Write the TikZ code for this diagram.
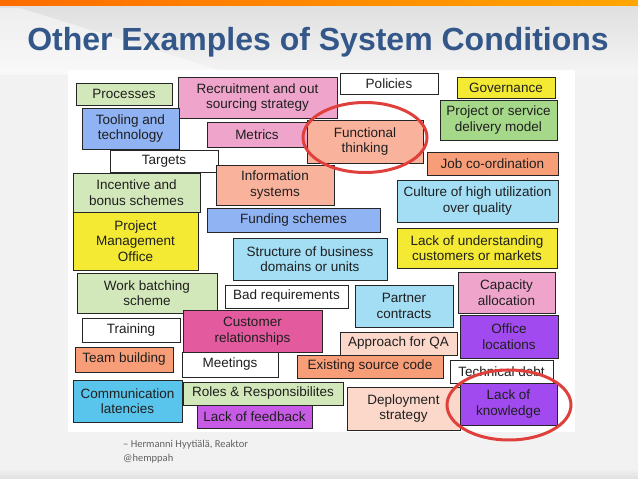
\documentclass[tikz,border=0pt]{standalone}
\usepackage{fontspec}
\setmainfont{Liberation Sans}
\newfontfamily\footfont{Carlito}
\usetikzlibrary{shapes.geometric}
\definecolor{titleblue}{HTML}{34578A}
\definecolor{cgreen}{HTML}{D3E8BA}
\definecolor{cgreendk}{HTML}{A5D889}
\definecolor{cpink}{HTML}{EEA4CB}
\definecolor{cblue}{HTML}{90B3F4}
\definecolor{csalmon}{HTML}{F9B29C}
\definecolor{corange}{HTML}{F79E78}
\definecolor{cyellow}{HTML}{F4EA33}
\definecolor{ccyan}{HTML}{A3DEF5}
\definecolor{ccyandk}{HTML}{5AC5EC}
\definecolor{cmagenta}{HTML}{E35A9E}
\definecolor{cpurple}{HTML}{A14AF0}
\definecolor{clilac}{HTML}{C85BE6}
\definecolor{cpeach}{HTML}{FCD8CA}
\definecolor{cred}{HTML}{E0403C}
\begin{document}
\begin{tikzpicture}[x=1pt,y=-1pt,
  box/.style={draw=black!85, line width=0.9pt, inner sep=0pt, align=center,
    font=\fontsize{13.5}{15.5}\selectfont, text=black!88},
  ring/.style={draw=cred, line width=3pt, ellipse, inner sep=0pt},
  foot/.style={anchor=base west, inner sep=0pt, text=black!62, font=\footfont\fontsize{10.5}{12}\selectfont}]
\useasboundingbox (0,0) rectangle (638,479);
% slide background
\fill[top color=black!13, bottom color=black!4] (0,0) rectangle (638,75);
\fill[black!5] (0,75) rectangle (638,468);
\fill[top color=black!5, bottom color=black!12] (0,468) rectangle (638,479);
\fill[white, opacity=0.45] (0,8) -- (20,8) -- (235,75) -- (0,75) -- cycle;
\fill[left color=orange!85!red, right color=orange!70!yellow] (0,0) rectangle (638,5);
% title
\node[anchor=base, text=titleblue, font=\fontsize{32}{36}\selectfont\bfseries, inner sep=0pt] (title) at (318,50) {Other Examples of System Conditions};
% photo area
\fill[white] (68,70) rectangle (575,432);
% sticky notes
\node[box, fill=cgreen, minimum width=96, minimum height=22] (proc) at (124,94) {Processes};
\node[box, fill=cpink, minimum width=159, minimum height=41] (recr) at (257.5,97.5) {Recruitment and out\\sourcing strategy};
\node[box, fill=cblue, minimum width=97, minimum height=41] (tool) at (130.5,128.5) {Tooling and\\technology};
\node[box, fill=csalmon, minimum width=116, minimum height=43] (func) at (365,141.5) {Functional\\thinking};
\node[box, fill=cpink, minimum width=100, minimum height=25] (metr) at (257,134.5) {Metrics};
\node[box, fill=white, minimum width=108, minimum height=22] (targ) at (164,161) {Targets};
\node[box, fill=csalmon, minimum width=118, minimum height=40] (info) at (275,185) {Information\\systems};
\node[box, fill=white, minimum width=98, minimum height=21] (poli) at (389,83.5) {Policies};
\node[box, fill=cyellow, minimum width=98, minimum height=21] (gov) at (506,87.5) {Governance};
\node[box, fill=cgreendk, minimum width=117, minimum height=40] (proj) at (498.5,120) {Project or service\\delivery model};
\node[box, fill=corange, minimum width=131, minimum height=23] (job) at (492.5,163.5) {Job co-ordination};
\node[box, fill=cgreen, minimum width=127, minimum height=39] (inc) at (136.5,192.5) {Incentive and\\bonus schemes};
\node[box, fill=cyellow, minimum width=125, minimum height=58] (pmo) at (135.5,241) {Project\\Management\\Office};
\node[box, fill=cblue, minimum width=173, minimum height=24] (fund) at (293.5,220) {Funding schemes};
\node[box, fill=ccyan, minimum width=154, minimum height=42] (struct) at (310,259) {Structure of business\\domains or units};
\node[box, fill=ccyan, minimum width=161, minimum height=42] (cult) at (477.5,201) {Culture of high utilization\\over quality};
\node[box, fill=cyellow, minimum width=160, minimum height=40] (lacku) at (477,248) {Lack of understanding\\customers or markets};
\node[box, fill=cgreen, minimum width=140, minimum height=40] (work) at (147,293) {Work batching\\scheme};
\node[box, fill=white, minimum width=123, minimum height=23] (bad) at (286.5,296.5) {Bad requirements};
\node[box, fill=cpink, minimum width=97, minimum height=41] (cap) at (506.5,292.5) {Capacity\\allocation};
\node[box, fill=ccyan, minimum width=98, minimum height=42] (part) at (404,306) {Partner\\contracts};
\node[box, fill=white, minimum width=98, minimum height=24] (train) at (131,330) {Training};
\node[box, fill=cmagenta, minimum width=139, minimum height=42] (cust) at (252.5,331) {Customer\\relationships};
\node[box, fill=cpurple, minimum width=98, minimum height=43] (office) at (509,336.5) {Office\\locations};
\node[box, fill=cpeach, minimum width=117, minimum height=23] (qa) at (398.5,343.5) {Approach for QA};
\node[box, fill=corange, minimum width=98, minimum height=25] (team) at (124,359.5) {Team building};
\node[box, fill=white, minimum width=96, minimum height=25] (meet) at (230,364.5) {Meetings};
\node[box, fill=corange, minimum width=146, minimum height=23] (exist) at (370,366.5) {Existing source code};
\node[box, fill=white, minimum width=103, minimum height=23] (tech) at (501.5,371.5) {Technical debt};
\node[box, fill=ccyandk, minimum width=109, minimum height=42] (comm) at (127.5,401) {Communication\\latencies};
\node[box, fill=cgreen, minimum width=160, minimum height=23] (roles) at (263,393.5) {Roles \& Responsibilites};
\node[box, fill=clilac, minimum width=115, minimum height=23] (lfb) at (254.5,416.5) {Lack of feedback};
\node[box, fill=cpeach, minimum width=113, minimum height=43] (depl) at (403.5,408.5) {Deployment\\strategy};
\node[box, fill=cpurple, minimum width=97, minimum height=42] (lok) at (508.5,404) {Lack of\\knowledge};
% red rings
\node[ring, minimum width=124, minimum height=70] (ring1) at (365,137.5) {};
\node[ring, minimum width=124, minimum height=70] (ring2) at (509,405) {};
% footer
\node[foot] (foot1) at (123,447) {– Hermanni Hyytiälä, Reaktor};
\node[foot] (foot2) at (123,461) {@hemppah};
\end{tikzpicture}
\end{document}
